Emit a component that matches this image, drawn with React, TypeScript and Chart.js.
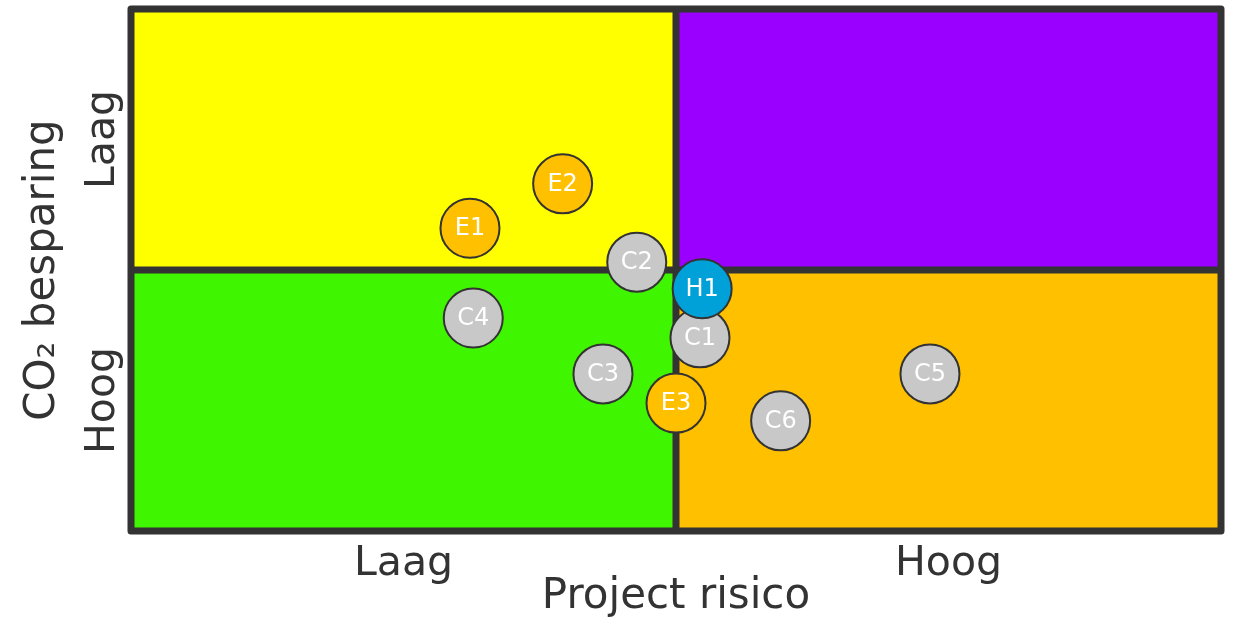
import React, { useEffect, useRef } from "react";
import { Chart, registerables } from "chart.js";

Chart.register(...registerables);

const xTickValues = [2.5, 7.5];
const xTickLabels = ["Laag", "Hoog"];
const yTickValues = [7.5, 2.5];
const yTickLabels = ["Laag", "Hoog"];
const xTitle = "Project risico";
const yTitle = "CO\u2082 besparing";

const bubbleLabels = ["E1", "E2", "C2", "C4", "C3", "C6", "C5", "E3", "C1", "H1"];
const bubbleX = [3.11, 3.96, 4.64, 3.14, 4.33, 5.96, 7.33, 5.0, 5.22, 5.24];
const bubbleY = [5.8, 6.65, 5.15, 4.08, 3.01, 2.11, 3.01, 2.45, 3.7, 4.64];
const bubbleGroups = ["E", "E", "C", "C", "C", "C", "C", "E", "C", "H"];

const groupColors: Record<string, string> = { E: "#FFC000", C: "#C8C8C8", H: "#00A0D8" };
const quadrantColors = { topLeft: "#FFFF00", topRight: "#9900FF", bottomLeft: "#40F500", bottomRight: "#FFC000" };
const DARK = "#333333";
const FONT = "'DejaVu Sans', Verdana, sans-serif";

const quadrantPlugin = {
  id: "quadrants",
  beforeDatasetsDraw(chart: any) {
    const { ctx, chartArea: a, scales } = chart;
    const mx = scales.x.getPixelForValue(5);
    const my = scales.y.getPixelForValue(5);
    ctx.save();
    ctx.fillStyle = quadrantColors.topLeft;
    ctx.fillRect(a.left, a.top, mx - a.left, my - a.top);
    ctx.fillStyle = quadrantColors.topRight;
    ctx.fillRect(mx, a.top, a.right - mx, my - a.top);
    ctx.fillStyle = quadrantColors.bottomLeft;
    ctx.fillRect(a.left, my, mx - a.left, a.bottom - my);
    ctx.fillStyle = quadrantColors.bottomRight;
    ctx.fillRect(mx, my, a.right - mx, a.bottom - my);
    ctx.strokeStyle = DARK;
    ctx.lineWidth = 7;
    ctx.beginPath();
    ctx.moveTo(mx, a.top);
    ctx.lineTo(mx, a.bottom);
    ctx.moveTo(a.left, my);
    ctx.lineTo(a.right, my);
    ctx.stroke();
    ctx.lineJoin = "round";
    ctx.strokeRect(a.left, a.top, a.right - a.left, a.bottom - a.top);
    // rotated y tick labels
    ctx.fillStyle = DARK;
    ctx.font = `41px ${FONT}`;
    ctx.textAlign = "center";
    ctx.textBaseline = "middle";
    yTickValues.forEach((v, i) => {
      const py = scales.y.getPixelForValue(v);
      ctx.save();
      ctx.translate(103, py);
      ctx.rotate(-Math.PI / 2);
      ctx.fillText(yTickLabels[i], 0, 0);
      ctx.restore();
    });
    ctx.restore();
  },
  afterDatasetsDraw(chart: any) {
    const { ctx } = chart;
    const meta = chart.getDatasetMeta(0);
    ctx.save();
    ctx.fillStyle = "#FFFFFF";
    ctx.font = `24px ${FONT}`;
    ctx.textAlign = "center";
    ctx.textBaseline = "middle";
    meta.data.forEach((el: any, i: number) => {
      ctx.fillText(bubbleLabels[i], el.x, el.y + 1);
    });
    ctx.restore();
  },
};

export default function App() {
  const ref = useRef<HTMLCanvasElement>(null);
  useEffect(() => {
    document.body.style.margin = "0";
    const canvas = ref.current!;
    const chart = new Chart(canvas, {
      type: "scatter",
      data: {
        datasets: [
          {
            data: bubbleX.map((x, i) => ({ x, y: bubbleY[i] })),
            backgroundColor: bubbleGroups.map((g) => groupColors[g]),
            borderColor: DARK,
            borderWidth: 2,
            pointRadius: 29.5,
            pointHoverRadius: 29.5,
          },
        ],
      },
      options: {
        animation: false,
        responsive: false,
        maintainAspectRatio: false,
        events: [],
        layout: { autoPadding: false, padding: { left: 0, right: 14, top: 9, bottom: 0 } },
        plugins: { legend: { display: false }, tooltip: { enabled: false } },
        scales: {
          x: {
            type: "linear",
            min: 0,
            max: 10,
            grid: { display: false, drawTicks: false },
            border: { display: false },
            afterBuildTicks: (axis: any) => {
              axis.ticks = xTickValues.map((v) => ({ value: v }));
            },
            ticks: {
              autoSkip: false,
              maxRotation: 0,
              padding: 12.5,
              color: DARK,
              font: { family: FONT, size: 41, lineHeight: 1 },
              callback: (v: any) => {
                const i = xTickValues.indexOf(Number(v));
                return i >= 0 ? xTickLabels[i] : "";
              },
            },
            title: {
              display: true,
              text: xTitle,
              color: DARK,
              font: { family: FONT, size: 42, lineHeight: 1 },
              padding: { top: -21, bottom: 1 },
            },
          },
          y: {
            type: "linear",
            min: 0,
            max: 10,
            grid: { display: false, drawTicks: false },
            border: { display: false },
            ticks: { display: false },
            title: {
              display: true,
              text: yTitle,
              color: DARK,
              font: { family: FONT, size: 42, lineHeight: 1.2 },
              padding: { top: 17.8, bottom: 62.8 },
            },
          },
        },
      },
      plugins: [quadrantPlugin],
    });
    return () => chart.destroy();
  }, []);
  return <canvas ref={ref} width={1235} height={619} style={{ display: "block" }} />;
}
